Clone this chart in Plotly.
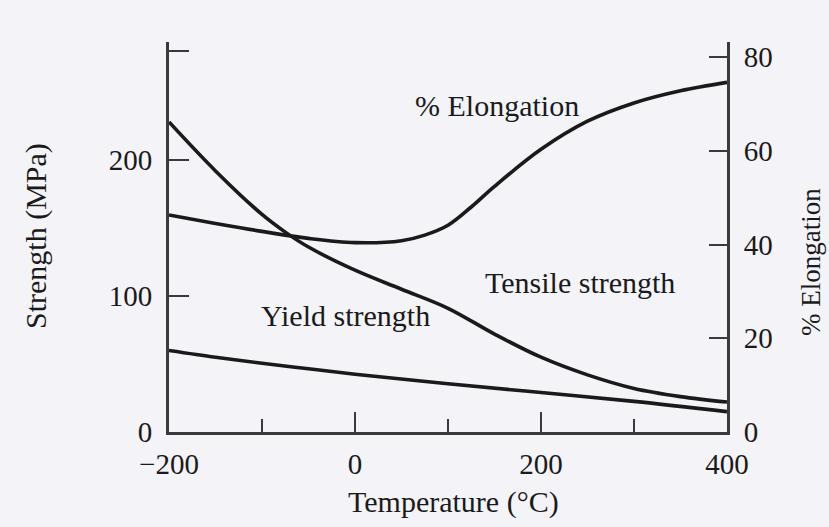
import plotly.graph_objects as go

# Temperature (°C)
temp_tensile = [-200, -150, -100, -75, -50, 0, 50, 100, 150, 200, 250, 300, 350, 400]
tensile = [228, 192, 160, 147, 136, 119, 105, 91, 72, 55, 42, 32, 26, 22]

temp_yield = [-200, -150, -100, -50, 0, 100, 200, 300, 400]
yield_strength = [60, 55, 50.5, 46.5, 42.5, 35.5, 29, 22.5, 15]

temp_elong = [-200, -150, -100, -50, 0, 50, 75, 100, 125, 150, 200, 250, 300, 350, 400]
elongation = [46.3, 44.5, 42.8, 41.3, 40.4, 40.8, 42.0, 44.1, 48.0, 52.4, 60.3, 66.3, 70.2, 72.8, 74.6]

x_ticks = [-200, 0, 200, 400]
y_ticks = [0, 100, 200, 280]
y_ticktext = ["0", "100", "200", ""]
y2_ticks = [0, 20, 40, 60, 80]

FONT = "Liberation Serif"
INK = "#1a1a1a"
AX = "#3a3a3a"
FS = 29
FA = 30

line = dict(color=INK, width=3.6, shape="spline", smoothing=1.0)

fig = go.Figure()
fig.add_trace(go.Scatter(x=temp_tensile, y=tensile, mode="lines", line=line, yaxis="y"))
fig.add_trace(go.Scatter(x=temp_yield, y=yield_strength, mode="lines", line=line, yaxis="y"))
fig.add_trace(go.Scatter(x=temp_elong, y=elongation, mode="lines", line=line, yaxis="y2"))

fig.update_layout(
    width=829, height=527, autosize=False,
    margin=dict(l=169, r=102, t=42, b=95),
    paper_bgcolor="#f3f3f8", plot_bgcolor="#f3f3f8",
    showlegend=False,
    font=dict(family=FONT, size=FS, color=INK),
    xaxis=dict(
        range=[-200, 400], tickvals=x_ticks, ticks="inside", ticklen=20, tickwidth=2,
        tickcolor=AX, showline=True, linecolor=AX, linewidth=3, showgrid=False,
        zeroline=False, ticklabelstandoff=4,
        minor=dict(dtick=100, tick0=-200, ticks="inside", ticklen=13, tickwidth=2, tickcolor=AX, showgrid=False),
        tickfont=dict(family=FONT, size=FS, color=INK),
    ),
    yaxis=dict(
        range=[0, 286.8], tickvals=y_ticks, ticktext=y_ticktext, ticks="inside", ticklen=20,
        tickwidth=2, tickcolor=AX, showline=True, linecolor=AX, linewidth=3,
        showgrid=False, zeroline=False, ticklabelstandoff=8,
        tickfont=dict(family=FONT, size=FS, color=INK),
    ),
    yaxis2=dict(
        range=[0, 83.2], tickvals=y2_ticks, overlaying="y", side="right", ticks="inside",
        ticklen=18, tickwidth=2, tickcolor=AX, showline=True, linecolor=AX, linewidth=3,
        showgrid=False, zeroline=False, ticklabelstandoff=8,
        tickfont=dict(family=FONT, size=FS, color=INK),
    ),
)

def ann(size):
    return dict(showarrow=False, font=dict(family=FONT, size=size, color=INK))

fig.add_annotation(text="% Elongation", x=497, y=527 - 105, xref="paper", yref="paper", **ann(FA))
fig.add_annotation(text="Tensile strength", x=580, y=527 - 282, xref="paper", yref="paper", **ann(FA))
fig.add_annotation(text="Yield strength", x=345, y=527 - 315, xref="paper", yref="paper", **ann(FA))
fig.add_annotation(text="Temperature (°C)", x=453, y=527 - 502, xref="paper", yref="paper", **ann(30))
fig.add_annotation(text="Strength (MPa)", x=36, y=527 - 236, textangle=-90, xref="paper", yref="paper", **ann(30))
fig.add_annotation(text="% Elongation", x=811, y=527 - 262, textangle=-90, xref="paper", yref="paper", **ann(27))

# convert pixel positions of annotations to paper coordinates
pw, ph = 829 - 169 - 102, 527 - 42 - 95
for a in fig.layout.annotations:
    a.x = (a.x - 169) / pw
    a.y = (a.y - 95) / ph
    a.xanchor = "center"
    a.yanchor = "middle"

fig.write_html("out.html")
